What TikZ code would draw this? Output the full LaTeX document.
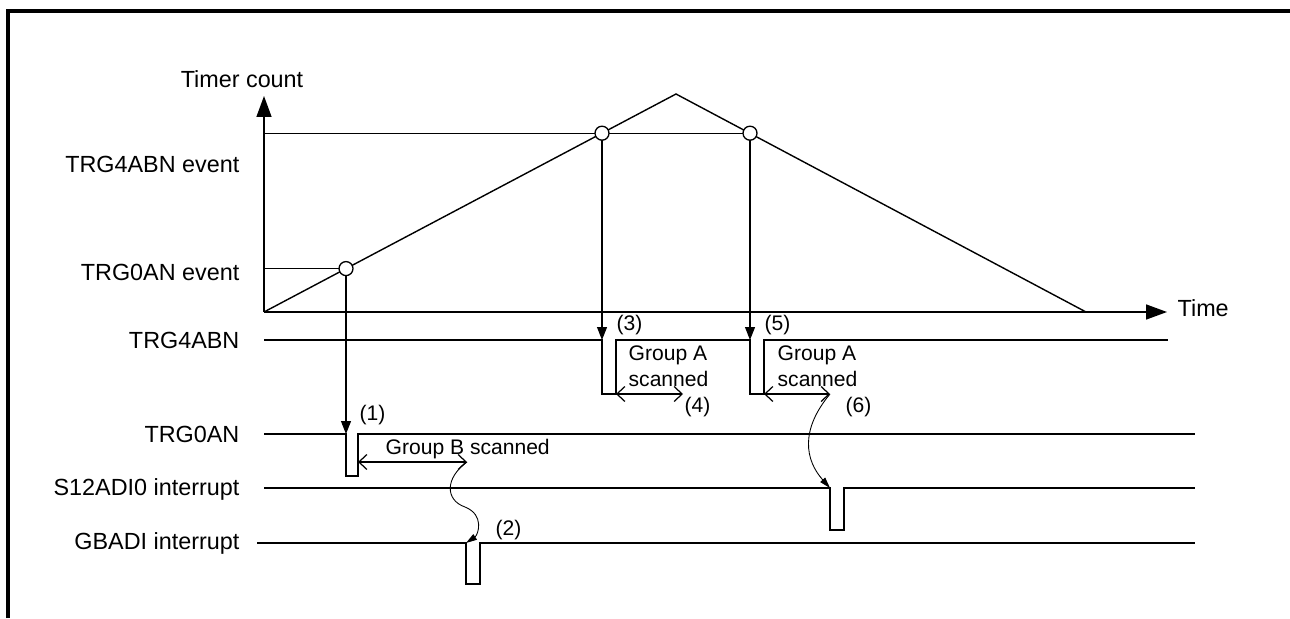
\documentclass[tikz,border=0pt]{standalone}
\usepackage{fontspec}
\setmainfont{Liberation Sans}
\usetikzlibrary{arrows.meta}
\begin{document}
\begin{tikzpicture}[x=0.02cm,y=-0.02cm, line width=0.75pt, line join=miter,
  lbl/.style={inner sep=0pt, font=\fontsize{13.3}{16}\selectfont},
  ilbl/.style={inner sep=0pt, anchor=west, font=\fontsize{12}{14.6}\selectfont},
  lbll/.style={lbl, anchor=east},
  frame/.style={line width=2pt},
  thinl/.style={line width=0.55pt},
  sig/.style={line width=0.9pt},
  axis/.style={line width=0.85pt, -{Triangle[length=0.42cm,width=0.3cm]}},
  vtrig/.style={line width=0.6pt, -{Triangle[length=0.26cm,width=0.2cm]}},
  spanarr/.style={line width=0.7pt, {Straight Barb[length=0.16cm,width=0.3cm]}-{Straight Barb[length=0.16cm,width=0.3cm]}},
  wavy/.style={line width=0.5pt, -{Triangle[length=0.22cm,width=0.13cm]}},
  evt/.style={circle, draw, line width=0.75pt, fill=white, minimum size=0.28cm, inner sep=0pt}
]
\useasboundingbox (0,0) rectangle (1290,618);
% frame
\coordinate (fbl) at (8,618);
\coordinate (ftl) at (8,11);
\coordinate (ftr) at (1290,11);
\draw[frame] (fbl) -- (ftl) -- (ftr);

% axes
\coordinate (O) at (264,312);
\coordinate (ytip) at (264,96);
\coordinate (xtip) at (1167,312);
\draw[axis] (O) -- (ytip);
\draw[axis] (O) -- (xtip);
\node[lbl] (tc) at (242,79) {Timer count};
\node[lbl, anchor=west] (tm) at (1177,308) {Time};

% triangle
\coordinate (peak) at (676,94);
\coordinate (tend) at (1086,312);
\draw[line width=0.8pt] (O) -- (peak) -- (tend);

% event points on the triangle
\coordinate (e1pos) at (346,268.6);
\coordinate (e2pos) at (602,133.2);
\coordinate (e3pos) at (750,133.2);
\coordinate (y1) at (264,268.6);
\coordinate (y2) at (264,133.2);

\node[lbll] (l4e) at (240,164) {TRG4ABN event};
\node[lbll] (l0e) at (240,272) {TRG0AN event};
\node[lbll] (l4) at (240,340) {TRG4ABN};
\node[lbll] (l0) at (240,434) {TRG0AN};
\node[lbll] (ls) at (240,489) {S12ADI0 interrupt};
\node[lbll] (lg) at (240,543) {GBADI interrupt};

% event level lines
\draw[thinl] (y1) -- (e1pos);
\draw[thinl] (y2) -- (e3pos);

% TRG4ABN signal
\coordinate (a0) at (264,340);
\coordinate (a1) at (602,340);
\coordinate (a1b) at (602,394);
\coordinate (a2b) at (616,394);
\coordinate (a2) at (616,340);
\coordinate (a3) at (750,340);
\coordinate (a3b) at (750,394);
\coordinate (a4b) at (764,394);
\coordinate (a4) at (764,340);
\coordinate (a5) at (1168,340);
\draw[sig] (a0) -- (a1) -- (a1b) -- (a2b) -- (a2) -- (a3) -- (a3b) -- (a4b) -- (a4) -- (a5);

% TRG0AN signal
\coordinate (b0) at (264,434);
\coordinate (b1) at (346,434);
\coordinate (b1b) at (346,476);
\coordinate (b2b) at (358,476);
\coordinate (b2) at (358,434);
\coordinate (b3) at (1195,434);
\draw[sig] (b0) -- (b1) -- (b1b) -- (b2b) -- (b2) -- (b3);

% S12ADI0 interrupt
\coordinate (s0) at (264,488);
\coordinate (s1) at (830,488);
\coordinate (s1b) at (830,530);
\coordinate (s2b) at (844,530);
\coordinate (s2) at (844,488);
\coordinate (s3) at (1195,488);
\draw[sig] (s0) -- (s1) -- (s1b) -- (s2b) -- (s2) -- (s3);

% GBADI interrupt
\coordinate (g0) at (257,543);
\coordinate (g1) at (466,543);
\coordinate (g1b) at (466,584);
\coordinate (g2b) at (480,584);
\coordinate (g2) at (480,543);
\coordinate (g3) at (1195,543);
\draw[sig] (g0) -- (g1) -- (g1b) -- (g2b) -- (g2) -- (g3);

% trigger arrows
\draw[vtrig] (e1pos) -- (b1);
\draw[vtrig] (e2pos) -- (a1);
\draw[vtrig] (e3pos) -- (a3);

% circles
\node[evt] (c1) at (e1pos) {};
\node[evt] (c2) at (e2pos) {};
\node[evt] (c3) at (e3pos) {};

% scan spans
\coordinate (ga1) at (683,394);
\coordinate (ga2) at (830,394);
\coordinate (gb1) at (358,462);
\coordinate (gb2) at (467,462);
\draw[spanarr] (a2b) -- (ga1);
\draw[spanarr] (a4b) -- (ga2);
\draw[spanarr] (gb1) -- (gb2);

% wavy arrows
\draw[wavy] (gb2) .. controls (445,478) and (445,500) .. (465,507)
              .. controls (485,515) and (478,535) .. (g1);
\draw[wavy] (ga2) .. controls (800,430) and (805,460) .. (s1);

% labels
\node[ilbl] (n1) at (359,415) {(1)};
\node[ilbl] (n2) at (495,530) {(2)};
\node[ilbl] (n3) at (616,325) {(3)};
\node[ilbl] (n4) at (684,407) {(4)};
\node[ilbl] (n5) at (764,325) {(5)};
\node[ilbl] (n6) at (845,407) {(6)};
\node[ilbl, align=left] (ga) at (628,366) {Group A\\scanned};
\node[ilbl, align=left] (gaa) at (777,366) {Group A\\scanned};
\node[ilbl] (gb) at (385,449) {Group B scanned};
\end{tikzpicture}
\end{document}
